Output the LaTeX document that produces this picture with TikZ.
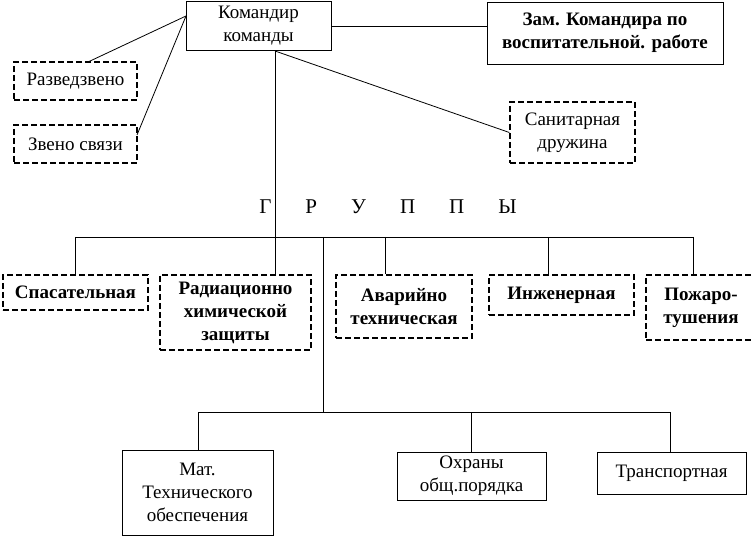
\documentclass[tikz,border=0pt]{standalone}
\usepackage{fontspec}
\setmainfont{Liberation Serif}
\begin{document}
\begin{tikzpicture}[x=1pt,y=-1pt,
 solidbox/.style={draw,line width=0.9pt,align=center,font=\fontsize{19}{23}\selectfont,inner sep=0},
 dbox/.style={draw,dashed,dash pattern=on 6pt off 3pt,line width=1.3pt,align=center,font=\fontsize{19}{23}\selectfont,inner sep=0},
 bold/.style={font=\bfseries\fontsize{19}{23}\selectfont},
 ln/.style={line width=0.8pt}]
\fill[white] (0,0) rectangle (753,540);
\useasboundingbox (0,0) rectangle (753,540);
\node[solidbox,minimum width=145pt,minimum height=49pt] (cmd) at (258.5,26) {Командир\\команды};
\node[solidbox,bold,minimum width=236pt,minimum height=62pt] (zam) at (605,33) {Зам. Командира по\\воспитательной. работе};
\node[dbox,minimum width=123pt,minimum height=38pt] (razv) at (75.5,81) {Разведзвено};
\node[dbox,minimum width=123pt,minimum height=38pt] (zv) at (75.5,144) {Звено связи};
\node[dbox,minimum width=125pt,minimum height=61pt] (san) at (572.5,132.5) {Санитарная\\дружина};
\node[font=\fontsize{21}{24}\selectfont] (gr) at (388,207) {Г\hspace{34pt}Р\hspace{34pt}У\hspace{34pt}П\hspace{34pt}П\hspace{34pt}Ы};
\node[dbox,bold,minimum width=145pt,minimum height=35pt] (g1) at (75.5,292.5) {Спасательная};
\node[dbox,bold,minimum width=151pt,minimum height=75pt] (g2) at (235.5,312.5) {Радиационно\\химической\\защиты};
\node[dbox,bold,minimum width=136pt,minimum height=63pt] (g3) at (404,306.5) {Аварийно\\техническая};
\node[dbox,bold,minimum width=145pt,minimum height=40pt] (g4) at (561.5,295) {Инженерная};
\node[dbox,bold,minimum width=110pt,minimum height=65pt] (g5) at (701,307.5) {Пожаро-\\тушения};
\node[solidbox,minimum width=151pt,minimum height=85pt] (m1) at (197.5,492.5) {Мат.\\Технического\\обеспечения};
\node[solidbox,minimum width=149pt,minimum height=48pt] (m2) at (471.5,476) {Охраны\\общ.порядка};
\node[solidbox,minimum width=149pt,minimum height=42pt] (m3) at (671.5,473) {Транспортная};
\coordinate (cl) at (186,16);
\coordinate (zvr) at (137,135);
\draw[ln] (cl) -- (88,62);
\draw[ln] (cl) -- (zvr);
\draw[ln] (cmd.east) -- (zam.west |- cmd.east);
\draw[ln] (275,51) -- (san.west);
\coordinate (top) at (275,237);
\draw[ln] (275,51) -- (top);
\coordinate (busL) at (75,237);
\coordinate (busR) at (693,237);
\draw[ln] (busL) -- (busR);
\draw[ln] (busL) -- (g1.north -| busL);
\draw[ln] (top) -- (g2.north -| top);
\draw[ln] (385,237) -- (g3.north -| 385,0);
\draw[ln] (548,237) -- (g4.north -| 548,0);
\draw[ln] (busR) -- (g5.north -| busR);
\coordinate (mid) at (323,412);
\draw[ln] (323,237) -- (mid);
\draw[ln] (198,412) -- (670,412);
\draw[ln] (198,412) -- (m1.north -| 198,0);
\draw[ln] (471,412) -- (m2.north -| 471,0);
\draw[ln] (670,412) -- (m3.north -| 670,0);
\end{tikzpicture}
\end{document}
